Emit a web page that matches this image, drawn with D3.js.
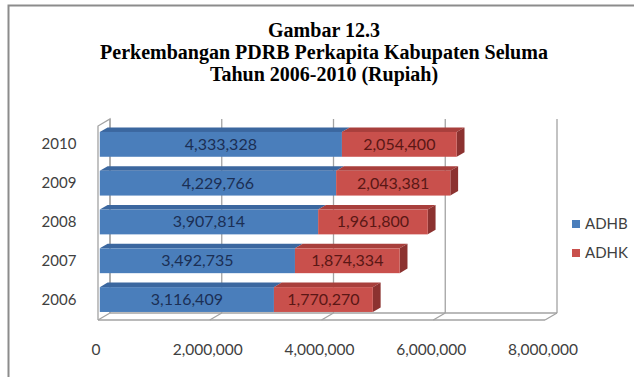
<!DOCTYPE html>
<html>
<head>
<meta charset="utf-8">
<script src="https://cdn.jsdelivr.net/npm/d3@7"></script>
<style>
  html, body { margin: 0; padding: 0; background: #fff; }
  svg { display: block; }
</style>
</head>
<body>
<svg id="chart" width="634" height="377"></svg>
<script>
// PDRB per capita, Kabupaten Seluma (Rupiah)
const years = ["2010", "2009", "2008", "2007", "2006"];
const adhb = [4333328, 4229766, 3907814, 3492735, 3116409];
const adhk = [2054400, 2043381, 1961800, 1874334, 1770270];
const seriesNames = ["ADHB", "ADHK"];
const xTicks = [0, 2000000, 4000000, 6000000, 8000000];
const titleLines = [
  "Gambar 12.3",
  "Perkembangan PDRB Perkapita Kabupaten Seluma",
  "Tahun 2006-2010 (Rupiah)"
];

const svg = d3.select("#chart");
const fmt = d3.format(",");

// oblique depth vector of the 3D plot box
const DX = 12, DY = -7;
const front = { left: 98, right: 545, top: 126, bottom: 320 };

const x = d3.scaleLinear().domain([0, 8000000]).range([front.left, front.right]);
const y = d3.scaleBand().domain(years).range([front.top, front.bottom])
  .paddingInner(0.36).paddingOuter(0.18);

const gridColor = "#a3a3a3";
const axisText = "#404040";
const sans = "Lato, 'Open Sans', sans-serif";

// outer frame
svg.append("rect")
  .attr("x", 8.5).attr("y", 5.5).attr("width", 640).attr("height", 400)
  .attr("fill", "none").attr("stroke", "#8c8c8c").attr("stroke-width", 2);

// title, one text element per line
svg.append("g").selectAll("text").data(titleLines).join("text")
  .attr("x", 324).attr("y", (d, i) => 37 + i * 22)
  .attr("text-anchor", "middle")
  .attr("font-family", "'Liberation Serif', 'Times New Roman', serif")
  .attr("font-weight", "bold")
  .attr("font-size", 20)
  .attr("fill", "#000")
  .text(d => d);

const grid = svg.append("g").attr("stroke", gridColor).attr("stroke-width", 1.3).attr("fill", "none");

// back-wall gridlines
grid.selectAll("line.g").data(xTicks).join("line")
  .attr("x1", d => x(d) + DX).attr("x2", d => x(d) + DX)
  .attr("y1", front.top + DY).attr("y2", front.bottom + DY);

// floor: back edge, front edge, depth lines at each tick
grid.append("line")
  .attr("x1", x(0) + DX).attr("x2", x(8000000) + DX)
  .attr("y1", front.bottom + DY).attr("y2", front.bottom + DY);
grid.append("line")
  .attr("x1", x(0)).attr("x2", x(8000000))
  .attr("y1", front.bottom).attr("y2", front.bottom);
grid.selectAll("line.d").data(xTicks).join("line")
  .attr("x1", d => x(d)).attr("x2", d => x(d) + DX)
  .attr("y1", front.bottom).attr("y2", front.bottom + DY);

// left wall
grid.append("path")
  .attr("d", `M${x(0)},${front.bottom} L${x(0)},${front.top} L${x(0) + DX},${front.top + DY} L${x(0) + DX},${front.bottom + DY}`);

// 3D stacked bars
const f0 = 0.15, f1 = 0.8; // depth range occupied by the bars
const colors = {
  ADHB: { front: "#4a7ebb", top: "#3b679f", side: "#2f5687", text: "#1b2f55" },
  ADHK: { front: "#c9504c", top: "#a83f3c", side: "#8c3230", text: "#5a1715" }
};

const bars = svg.append("g");
years.forEach((yr, i) => {
  const segs = [
    { name: "ADHB", v0: 0, v1: adhb[i], val: adhb[i] },
    { name: "ADHK", v0: adhb[i], v1: adhb[i] + adhk[i], val: adhk[i] }
  ];
  const h = y.bandwidth();
  const fy = y(yr) + DY * f0;
  const ox = DX * f0;
  const ddx = DX * (f1 - f0), ddy = DY * (f1 - f0);
  segs.forEach((s, k) => {
    const c = colors[s.name];
    const xa = x(s.v0) + ox, xb = x(s.v1) + ox;
    const g = bars.append("g");
    // top face
    g.append("path")
      .attr("d", `M${xa},${fy} L${xa + ddx},${fy + ddy} L${xb + ddx},${fy + ddy} L${xb},${fy} Z`)
      .attr("fill", c.top);
    // end face (only for the outermost segment)
    if (k === segs.length - 1) {
      g.append("path")
        .attr("d", `M${xb},${fy} L${xb + ddx},${fy + ddy} L${xb + ddx},${fy + h + ddy} L${xb},${fy + h} Z`)
        .attr("fill", c.side);
    }
    // front face
    g.append("rect")
      .attr("x", xa).attr("y", fy).attr("width", xb - xa).attr("height", h)
      .attr("fill", c.front);
    g.append("text")
      .attr("x", (xa + xb) / 2).attr("y", fy + h / 2 + 5.5)
      .attr("text-anchor", "middle")
      .attr("font-family", sans)
      .attr("font-size", 16)
      .attr("fill", c.text)
      .text(fmt(s.val));
  });
});

// category labels
svg.append("g").selectAll("text").data(years).join("text")
  .attr("x", 59).attr("y", d => y(d) + DY * f0 + y.bandwidth() / 2 + 5)
  .attr("text-anchor", "middle")
  .attr("font-family", sans)
  .attr("font-size", 15)
  .attr("fill", axisText)
  .text(d => d);

// value axis labels
svg.append("g").selectAll("text").data(xTicks).join("text")
  .attr("x", d => x(d) - 2).attr("y", 355)
  .attr("text-anchor", "middle")
  .attr("font-family", sans)
  .attr("font-size", 15.5)
  .attr("fill", axisText)
  .text(d => fmt(d));

// legend
const legend = svg.append("g");
seriesNames.forEach((n, i) => {
  const ly = 224 + i * 29;
  legend.append("rect")
    .attr("x", 572).attr("y", ly - 4).attr("width", 8).attr("height", 8)
    .attr("fill", colors[n].front);
  legend.append("text")
    .attr("x", 585).attr("y", ly + 5)
    .attr("font-family", sans)
    .attr("font-size", 15)
    .attr("fill", axisText)
    .text(n);
});
</script>
</body>
</html>
